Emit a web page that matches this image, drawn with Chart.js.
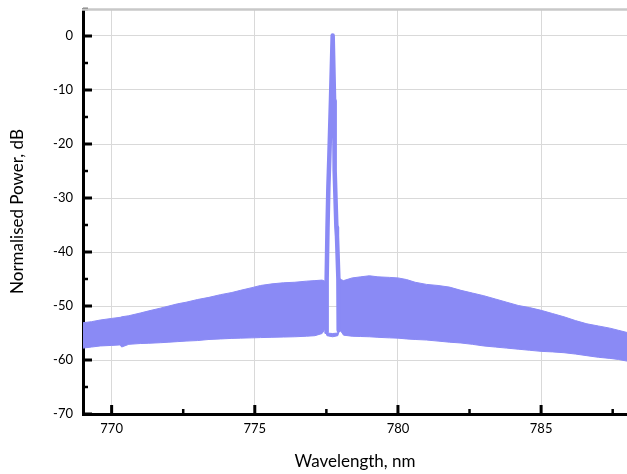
<!DOCTYPE html>
<html><head><meta charset="utf-8">
<script src="https://cdn.jsdelivr.net/npm/chart.js@4.4.1/dist/chart.umd.min.js"></script>
<style>html,body{margin:0;padding:0;background:#fff;}#c{display:block;}</style>
</head><body>
<canvas id="c" width="627" height="474"></canvas>
<script>
// Broadband noise envelope (wavelength in nm, power in dB)
const bandWavelength = [769.0, 769.3, 769.6, 770.0, 770.3, 770.35, 770.6, 771.0, 771.3, 771.7, 772.0, 772.3, 772.6, 773.0, 773.4, 773.8, 774.2, 774.5, 774.9, 775.2, 775.6, 776.0, 776.4, 776.8, 777.1, 777.35, 777.45, 777.52, 777.72, 777.9, 777.96, 778.1, 778.4, 778.7, 779.0, 779.3, 779.7, 780.0, 780.3, 780.6, 781.0, 781.4, 781.8, 782.2, 782.6, 783.0, 783.4, 783.8, 784.2, 784.6, 785.0, 785.4, 785.8, 786.2, 786.6, 787.0, 787.4, 787.7, 788.0];
const bandUpper = [-53.1, -52.9, -52.6, -52.3, -52.1, -52.0, -51.8, -51.3, -50.9, -50.4, -50.0, -49.6, -49.3, -48.8, -48.4, -47.9, -47.5, -47.1, -46.6, -46.2, -45.9, -45.7, -45.6, -45.4, -45.3, -45.2, -45.4, -55.0, -55.1, -55.0, -45.0, -45.3, -44.8, -44.6, -44.4, -44.6, -44.7, -44.8, -45.1, -45.6, -46.0, -46.2, -46.5, -47.1, -47.6, -48.1, -48.7, -49.3, -49.9, -50.3, -50.8, -51.4, -52.0, -52.7, -53.3, -53.7, -54.1, -54.5, -54.9];
const bandLower = [-57.8, -57.6, -57.4, -57.3, -57.2, -57.6, -57.1, -56.95, -56.9, -56.8, -56.7, -56.6, -56.5, -56.4, -56.2, -56.1, -56.0, -55.95, -55.9, -55.85, -55.8, -55.75, -55.7, -55.6, -55.5, -55.1, -54.3, -55.5, -55.7, -55.5, -54.3, -55.4, -55.6, -55.65, -55.7, -55.8, -55.9, -55.95, -56.1, -56.2, -56.3, -56.5, -56.7, -56.85, -57.1, -57.4, -57.6, -57.8, -58.0, -58.2, -58.4, -58.5, -58.65, -58.9, -59.2, -59.5, -59.7, -59.9, -60.2];
// Laser line peak trace
const peakWavelength = [777.50, 777.51, 777.54, 777.57, 777.60, 777.66, 777.72, 777.77, 777.79, 777.83, 777.85, 777.87, 777.92, 777.93];
const peakPower = [-54.8, -45.0, -35.4, -28.0, -23.0, -12.0, 0.1, -12.0, -25.0, -32.0, -35.4, -37.0, -45.0, -54.5];
// Axes
const xRange = [769, 788];
const yRange = [-70, 5];
const xTitle = 'Wavelength, nm';
const yTitle = 'Normalised Power, dB';

const fillColor = 'rgb(138,138,245)';
const toPts = (xs, ys) => xs.map((x, i) => ({x, y: ys[i]}));

const innerTicks = {
  id: 'innerTicks',
  beforeDatasetsDraw(chart) {
    const {ctx, chartArea: a, scales: {x, y}} = chart;
    ctx.save();
    ctx.strokeStyle = '#000';
    ctx.lineCap = 'butt';
    const yt = y.ticks.map(t => t.value);
    const xt = x.ticks.map(t => t.value);
    const ys = yt.length > 1 ? Math.abs(yt[1] - yt[0]) : 10;
    const xs = xt.length > 1 ? Math.abs(xt[1] - xt[0]) : 5;
    for (let v = y.min; v <= y.max + 1e-9; v += ys / 2) {
      const major = yt.some(t => Math.abs(t - v) < 1e-6);
      const p = y.getPixelForValue(v);
      ctx.lineWidth = major ? 3 : 2.5;
      ctx.beginPath(); ctx.moveTo(a.left, p); ctx.lineTo(a.left + (major ? 9 : 5), p); ctx.stroke();
    }
    const start = Math.ceil(x.min / (xs / 2)) * (xs / 2);
    for (let v = start; v <= x.max + 1e-9; v += xs / 2) {
      const major = xt.some(t => Math.abs(t - v) < 1e-6);
      const p = x.getPixelForValue(v);
      ctx.lineWidth = major ? 3 : 2.5;
      ctx.beginPath(); ctx.moveTo(p, a.bottom); ctx.lineTo(p, a.bottom - (major ? 9 : 5)); ctx.stroke();
    }
    ctx.restore();
  },
  afterDraw(chart) {
    const {ctx, chartArea: a} = chart;
    ctx.save();
    ctx.strokeStyle = '#c8c8c8';
    ctx.lineWidth = 2.5;
    ctx.beginPath(); ctx.moveTo(a.left - 1, a.top + 0.5); ctx.lineTo(a.right, a.top + 0.5); ctx.stroke();
    ctx.restore();
  }
};

new Chart(document.getElementById('c'), {
  type: 'line',
  data: {
    datasets: [
      {data: toPts(peakWavelength, peakPower), borderColor: fillColor, borderWidth: 4.5, pointRadius: 0, fill: false, tension: 0, borderJoinStyle: 'round', borderCapStyle: 'round', order: 0},
      {data: toPts(bandWavelength, bandUpper), borderColor: fillColor, backgroundColor: fillColor, borderWidth: 1, pointRadius: 0, fill: '+1', tension: 0, order: 1},
      {data: toPts(bandWavelength, bandLower), borderColor: fillColor, borderWidth: 1, pointRadius: 0, fill: false, tension: 0, order: 1}
    ]
  },
  options: {
    responsive: false,
    animation: false,
    devicePixelRatio: 1,
    layout: {padding: {top: 9, right: 0, left: 0, bottom: 0}},
    plugins: {legend: {display: false}, tooltip: {enabled: false}},
    scales: {
      x: {
        type: 'linear', min: xRange[0], max: xRange[1],
        afterFit: s => { s.height = 60; s.paddingLeft = 0; s.paddingRight = 0; },
        ticks: {stepSize: 5, includeBounds: false, padding: 7, color: '#000', font: {family: 'Lato', size: 13}, maxRotation: 0},
        grid: {color: '#d9d9d9', lineWidth: 1, drawTicks: false},
        border: {color: '#000', width: 3},
        title: {display: true, text: xTitle, color: '#000', font: {family: 'Lato', size: 17}, padding: {top: 0, bottom: 2}}
      },
      y: {
        type: 'linear', min: yRange[0], max: yRange[1],
        afterFit: s => { s.width = 83; s.paddingTop = 0; s.paddingBottom = 0; },
        ticks: {stepSize: 10, includeBounds: false, padding: 10, color: '#000', font: {family: 'Lato', size: 13}},
        grid: {color: '#d9d9d9', lineWidth: 1, drawTicks: false},
        border: {color: '#000', width: 3},
        title: {display: true, text: yTitle, color: '#000', font: {family: 'Lato', size: 17}, padding: {top: 7, bottom: 0}}
      }
    }
  },
  plugins: [innerTicks]
});
</script>
</body></html>
